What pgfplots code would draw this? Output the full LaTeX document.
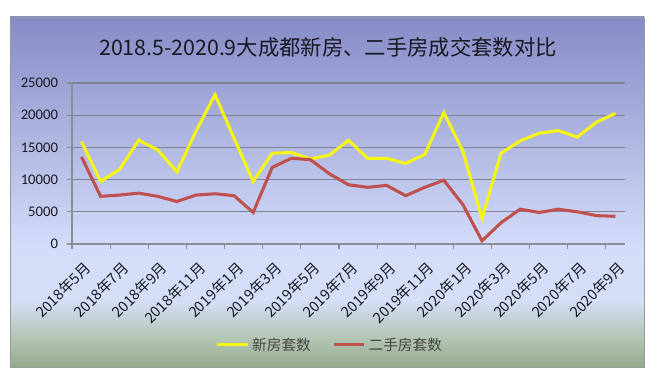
\documentclass[border=0pt]{standalone}
\usepackage{pgfplots}
\pgfplotsset{compat=1.18}
\usepackage{fontspec}
\setmainfont{Carlito}
\newfontfamily\cjk{Noto Sans CJK SC}
\definecolor{bgtop}{RGB}{134,139,198}
\definecolor{bgmid}{RGB}{212,222,250}
\definecolor{bglow}{RGB}{212,222,246}
\definecolor{bggr}{RGB}{178,196,178}
\definecolor{bgbot}{RGB}{148,170,142}
\definecolor{gridgray}{RGB}{128,130,145}
\definecolor{axisgray}{RGB}{140,140,150}
\definecolor{newcol}{RGB}{245,245,20}
\definecolor{oldcol}{RGB}{192,80,77}
\definecolor{titlecol}{RGB}{25,25,35}
\definecolor{legtext}{RGB}{70,70,70}
\pgfdeclareverticalshading{bgshade}{100bp}{color(0bp)=(bgbot); color(25bp)=(bgbot); color(29bp)=(bggr); color(34.5bp)=(bglow); color(41.5bp)=(bgmid); color(75bp)=(bgtop); color(100bp)=(bgtop)}
\begin{document}
\begin{tikzpicture}
\path (0,0) rectangle (487.5pt,282.75pt);
\fill[shading=bgshade] (7.5pt,7.5pt) rectangle (483pt,270pt);
\draw[draw=gray!80, line width=0.6pt] (7.5pt,7.5pt) rectangle (483pt,270pt);
\node[font=\cjk\fontsize{16}{19}\selectfont, text=titlecol] at (246pt,247.5pt) {2018.5-2020.9大成都新房、二手房成交套数对比};
\begin{axis}[
  at={(54pt,99.75pt)}, anchor=south west,
  scale only axis, width=414.75pt, height=120.75pt,
  xmin=-0.5, xmax=28.5, ymin=0, ymax=25000,
  axis x line*=bottom, axis y line*=left,
  axis line style={draw=axisgray, line width=0.8pt, -},
  tick align=outside,
  tick style={draw=axisgray, line width=0.8pt},
  major tick length=4pt,
  ytick={0,5000,10000,15000,20000,25000},
  ymajorgrids, grid style={draw=gridgray, line width=0.9pt},
  scaled y ticks=false,
  /pgf/number format/assume math mode=true,
  /pgf/number format/1000 sep={},
  yticklabel style={font=\fontsize{11}{13}\selectfont, text=titlecol, xshift=-3pt},
  xtick={-0.5,1.5,...,27.5}, xticklabels={},
  extra x ticks={0,2,...,28},
  extra x tick labels={2018年5月,2018年7月,2018年9月,2018年11月,2019年1月,2019年3月,2019年5月,2019年7月,2019年9月,2019年11月,2020年1月,2020年3月,2020年5月,2020年7月,2020年9月},
  extra x tick style={major tick length=0pt, tick label style={xshift=5pt, yshift=-16pt, font=\cjk\fontsize{11}{13}\selectfont, text=titlecol, rotate=45, anchor=east, inner sep=0pt}},
  legend style={at={(0.467,-0.627)}, anchor=center, draw=none, fill=none, legend columns=2, font=\cjk\fontsize{11}{13}\selectfont, text=legtext, /tikz/every even column/.append style={column sep=14pt}},
  legend image code/.code={\draw[#1] (0pt,0pt) -- (23pt,0pt);},
  clip=false,
]
\addplot[newcol, line width=2.3pt, mark=none] coordinates {
(0,15900) (1,9700) (2,11600) (3,16100) (4,14600) (5,11200) (6,17500) (7,23200) (8,16400) (9,9700)
(10,14100) (11,14200) (12,13200) (13,13800) (14,16100) (15,13300) (16,13300) (17,12500) (18,13900) (19,20400)
(20,14400) (21,4000) (22,14100) (23,16000) (24,17200) (25,17600) (26,16600) (27,18900) (28,20300)};
\addlegendentry{新房套数}
\addplot[oldcol, line width=2.3pt, mark=none] coordinates {
(0,13500) (1,7400) (2,7600) (3,7900) (4,7400) (5,6600) (6,7600) (7,7800) (8,7500) (9,4900)
(10,11900) (11,13300) (12,13100) (13,10900) (14,9200) (15,8800) (16,9100) (17,7500) (18,8800) (19,9900)
(20,6100) (21,500) (22,3300) (23,5400) (24,4900) (25,5400) (26,5000) (27,4400) (28,4300)};
\addlegendentry{二手房套数}
\end{axis}
\end{tikzpicture}
\end{document}
